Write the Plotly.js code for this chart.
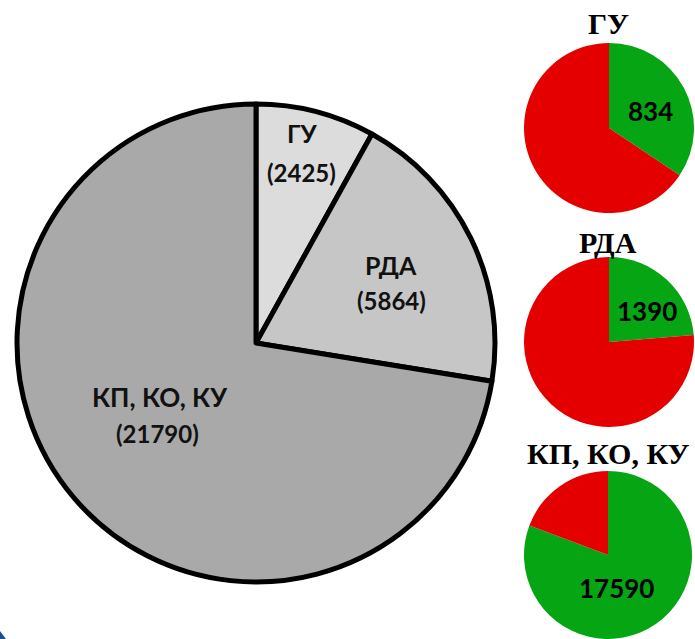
<!DOCTYPE html>
<html>
<head>
<meta charset="utf-8">
<script src="https://cdn.plot.ly/plotly-3.0.1.min.js"></script>
<style>html,body{margin:0;padding:0;background:#fff;}#chart{width:695px;height:639px;}</style>
</head>
<body>
<div id="chart"></div>
<script>
// Data
const groups = ['ГУ', 'РДА', 'КП, КО, КУ'];
const totals = [2425, 5864, 21790];
const greenPart = [834, 1390, 17590];
const mainColors = ['#dcdcdc', '#c6c6c6', '#a9a9a9'];
const green = '#05a514';
const red = '#e50000';

const W = 695, H = 639;
function dx(a, b) { return [a / W, b / W]; }
function dy(top, bottom) { return [1 - bottom / H, 1 - top / H]; }

const traces = [];
traces.push({
  type: 'pie',
  labels: groups,
  values: totals,
  sort: false,
  direction: 'clockwise',
  rotation: 0,
  textinfo: 'none',
  hoverinfo: 'label+value',
  marker: { colors: mainColors, line: { color: '#000', width: 5 } },
  domain: { x: dx(17, 495), y: dy(104, 582) },
  showlegend: false
});

const smallDomains = [
  { x: dx(524, 694), y: dy(43, 213) },
  { x: dx(524, 694), y: dy(257, 427) },
  { x: dx(524, 692), y: [0, 168 / H] }
];
groups.forEach((g, i) => {
  traces.push({
    type: 'pie',
    labels: ['green', 'red'],
    values: [greenPart[i], totals[i] - greenPart[i]],
    sort: false,
    direction: 'clockwise',
    rotation: 0,
    textinfo: 'none',
    hoverinfo: 'value',
    marker: { colors: [green, red], line: { color: '#fff', width: 0 } },
    domain: smallDomains[i],
    showlegend: false
  });
});

function ann(text, px, py, size, family, color) {
  return {
    text: text, xref: 'paper', yref: 'paper', x: px / W, y: 1 - py / H,
    xanchor: 'center', yanchor: 'middle', showarrow: false,
    font: { family: family, size: size, color: color || '#111', weight: 'bold' }
  };
}
const sans = 'Lato, "Open Sans", sans-serif';
const serif = '"Liberation Serif", "DejaVu Serif", serif';
const annotations = [
  // main pie labels
  ann('<b>' + groups[0] + '</b>', 302, 133, 25, sans),
  ann('<b>(' + totals[0] + ')</b>', 301, 172, 24, sans),
  ann('<b>' + groups[1] + '</b>', 391, 265, 25, sans),
  ann('<b>(' + totals[1] + ')</b>', 391, 300, 24, sans),
  ann('<b>' + groups[2] + '</b>', 159, 397, 26, sans),
  ann('<b>(' + totals[2] + ')</b>', 157, 433, 24, sans),
  // small pie titles
  ann('<b>' + groups[0] + '</b>', 608, 24, 30, serif, '#000'),
  ann('<b>' + groups[1] + '</b>', 608, 242, 30, serif, '#000'),
  ann('<b>' + groups[2] + '</b>', 608, 453, 30, serif, '#000'),
  // small pie values
  ann('<b>' + greenPart[0] + '</b>', 650, 111, 26, sans, '#000'),
  ann('<b>' + greenPart[1] + '</b>', 647, 311, 26, sans, '#000'),
  ann('<b>' + greenPart[2] + '</b>', 616, 588, 26, sans, '#000')
];

const layout = {
  width: W, height: H,
  margin: { l: 0, r: 0, t: 0, b: 0 },
  paper_bgcolor: '#fff',
  showlegend: false,
  annotations: annotations,
  shapes: [{
    type: 'path', xref: 'paper', yref: 'paper',
    path: 'M 0 0 L 0 ' + (8 / H) + ' L ' + (6 / W) + ' 0 Z',
    fillcolor: '#1f4e8c', line: { width: 0 }
  }]
};

Plotly.newPlot('chart', traces, layout, { displayModeBar: false, staticPlot: true });
</script>
</body>
</html>
